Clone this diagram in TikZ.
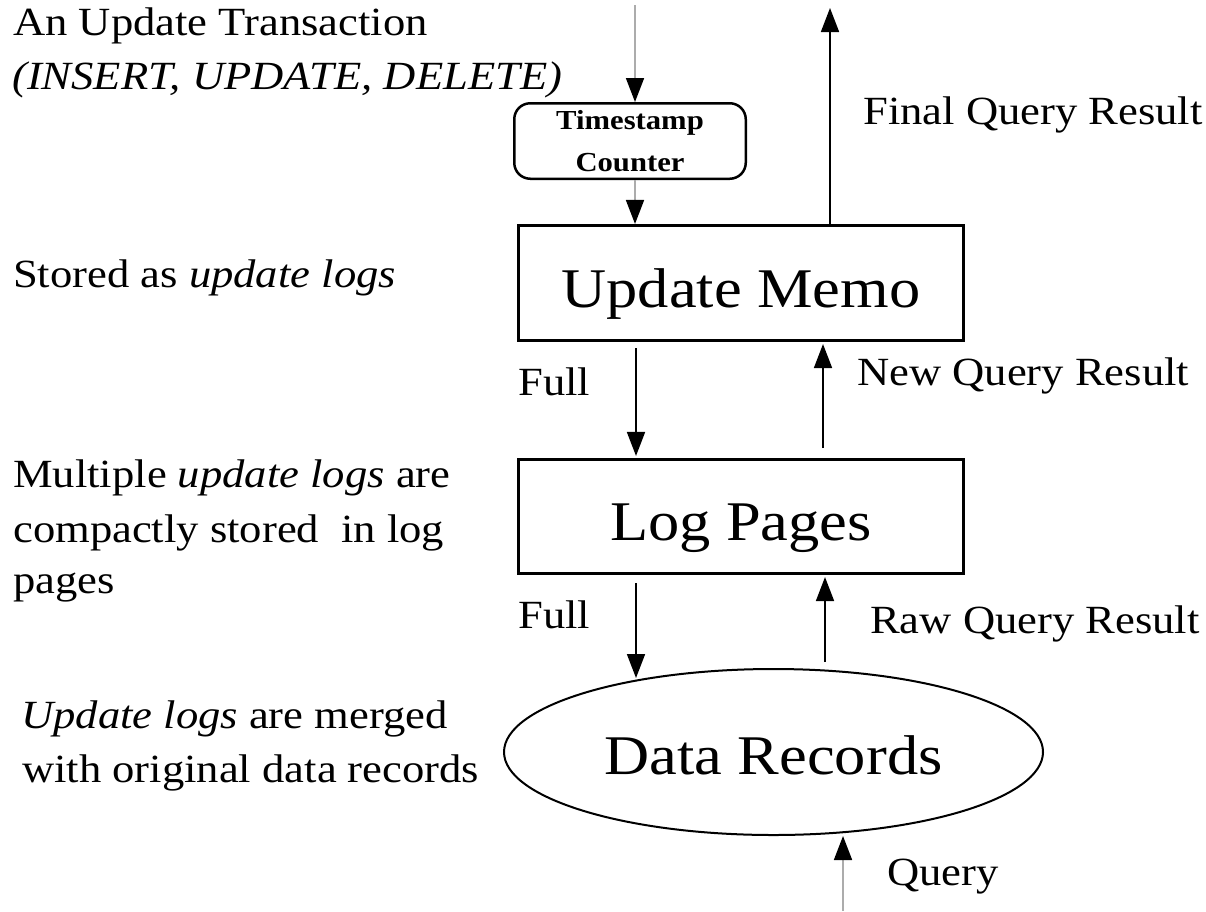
\documentclass[tikz,border=0pt]{standalone}
\usepackage{fontspec}
\setmainfont{Liberation Serif}[FakeStretch=1.115]
\usetikzlibrary{shapes.geometric,arrows.meta}
\begin{document}
\begin{tikzpicture}[x=1pt,y=-1pt,
  lbl/.style={anchor=base west,inner sep=0pt,font=\fontsize{40}{48}\selectfont},
  bigbox/.style={draw,line width=3.3pt,minimum width=444.8pt,minimum height=114.8pt,inner sep=0pt,
     font=\fontsize{56}{64}\selectfont,text height=48pt,text depth=0pt},
  arr/.style={line width=1.7pt,-{Triangle[length=24pt,width=18pt]}},
  inarr/.style={line width=1.7pt,draw=gray!65,-{Triangle[length=24pt,width=18pt,color=black,fill=black]}}
]
\useasboundingbox (0,0) rectangle (1206,911);

% left / side labels
\node[lbl] (t1) at (13,35) {An Update Transaction};
\node[lbl] (t2) at (12,89) {\textit{(INSERT, UPDATE, DELETE)}};
\node[lbl] (fqr) at (863,124) {Final Query Result};
\node[lbl] (sal) at (13,287) {Stored as \textit{update logs}};
\node[lbl] (full1) at (518,395) {Full};
\node[lbl] (nqr) at (857,385) {New Query Result};
\node[lbl] (m1) at (13,487) {Multiple \textit{update logs} are};
\node[lbl] (m2) at (13,542) {compactly stored\ \ in log};
\node[lbl] (m3) at (13,593) {pages};
\node[lbl] (full2) at (518,628) {Full};
\node[lbl] (rqr) at (870,633) {Raw Query Result};
\node[lbl] (u1) at (21,728) {\textit{Update logs} are merged};
\node[lbl] (u2) at (22,782) {with original data records};
\node[lbl] (q) at (887,885) {Query};

% main nodes
\node[draw,rounded corners=16pt,line width=2.5pt,minimum width=231.5pt,minimum height=75.5pt,
      align=center,inner sep=0pt,font=\bfseries\fontsize{27.5}{42}\selectfont] (ts) at (630,141) {Timestamp\\Counter};
\node[bigbox] (memo) at (741,283) {Update Memo};
\node[bigbox,minimum height=113.8pt] (log) at (741,516.5) {Log Pages};
\node[ellipse,draw,line width=2pt,minimum width=539pt,minimum height=166pt,inner sep=0pt,
      font=\fontsize{56}{64}\selectfont,text height=44pt,text depth=0pt] (dr) at (773.5,752) {Data Records};

% connectors
\coordinate (tin) at (635,5);
\draw[inarr] (tin) -- (tin |- ts.north);
\draw[inarr] (tin |- ts.south) -- (tin |- memo.north);
\coordinate (tout) at (830,8);
\draw[arr] (tout |- memo.north) -- (tout);
\coordinate (f1) at (636,348);
\draw[arr,shorten >=2pt] (f1) -- (f1 |- log.north);
\coordinate (n1) at (823,448);
\draw[arr,shorten >=2pt] (n1) -- (n1 |- memo.south);
\coordinate (f2) at (636,583);
\coordinate (f2e) at (636,678);
\draw[arr] (f2) -- (f2e);
\coordinate (r2) at (825,662);
\draw[arr,shorten >=2pt] (r2) -- (r2 |- log.south);
\coordinate (qin) at (843,911);
\draw[inarr] (qin) -- (qin |- dr.south);
\end{tikzpicture}
\end{document}
